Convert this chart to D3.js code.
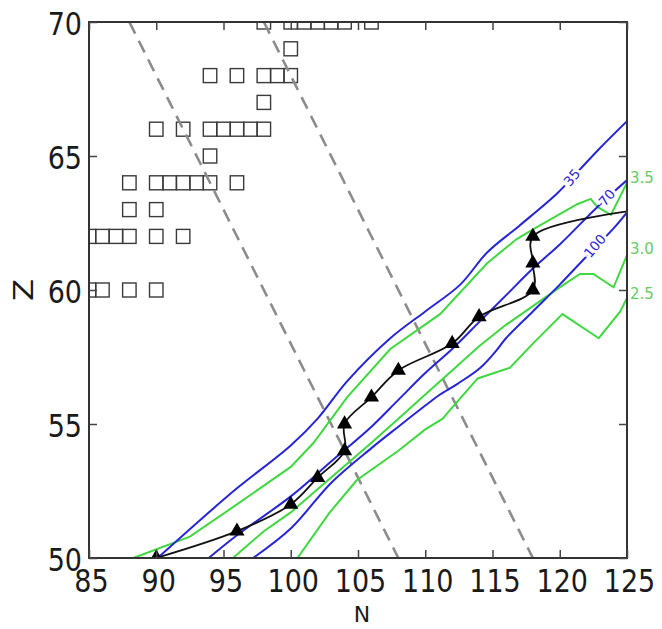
<!DOCTYPE html>
<html><head><meta charset="utf-8">
<script src="https://cdn.jsdelivr.net/npm/d3@7"></script>
<style>body{margin:0;background:#fff} svg{display:block}</style>
</head><body><svg id="c" width="662" height="629"></svg>
<script>
const xTicks=[85,90,95,100,105,110,115,120,125];
const yTicks=[50,55,60,65,70];

// open squares (N, Z)
const squareN=[85,86,88,90, 85,86,87,88,90,92, 88,90, 88,90,91,92,93,94,96, 94, 90,92,94,95,96,97,98, 98, 94,96,98,99,100, 100, 98,100,101,102,103,104,106];
const squareZ=[60,60,60,60, 62,62,62,62,62,62, 63,63, 64,64,64,64,64,64,64, 65, 66,66,66,66,66,66,66, 67, 68,68,68,68,68, 69, 70,70,70,70,70,70,70];

// dashed guide lines
const dash1N=[88,108], dash1Z=[70,50];
const dash2N=[98,118], dash2Z=[70,50];

// blue contours
const blue35N=[90.1,93,96,100,102,104.2,107.4,110,112.6,114.6,117,119.8,121.5,123,125];
const blue35Z=[50,51.3,52.6,54.2,55.2,56.6,58.2,59.2,60.2,61.4,62.4,63.6,64.5,65.3,66.3];
const blue70N=[93.9,96,100,103,106,108,110,112,114,116,118,120,122.8,125];
const blue70Z=[50,50.85,52.3,53.6,54.9,55.9,56.9,57.8,58.8,59.8,60.8,61.7,63.1,64.1];
const blue100N=[97.2,100,103,106,108,110.3,111.1,112.4,114.1,115.3,116,118,120,121.7,124,125];
const blue100Z=[50,51.1,52.8,54.1,54.9,55.8,56.1,56.5,57.1,57.75,58.2,59.2,60.2,61.1,62.3,62.9];

// green contours
const green35N=[88.3,92.5,96,100,101.7,104.2,107.4,111.1,114.6,116.8,118.3,121.3,122.3,122.8,123.8,125];
const green35Z=[50,50.8,52.0,53.4,54.3,56.0,57.8,59.1,61.0,61.9,62.35,63.2,63.4,63.1,62.8,64.0];
const green30N=[95.7,98,100,103,106,108,110,112,114,116,118,120,121.5,122.5,124,125];
const green30Z=[50,51,51.7,53.0,54.3,55.2,56.1,57.0,57.9,58.7,59.4,60.1,60.6,60.6,60.1,61.3];
const green25N=[100.5,102.9,104.9,108,110,111.3,111.8,113.9,116.3,118,120.2,122.9,124.5,125];
const green25Z=[50,51.7,52.9,54.0,54.8,55.2,55.5,56.7,57.1,58.0,59.1,58.2,59.2,59.7];

// path with triangles
const pathN=[90,96,100,102,104,104,106,108,112,114,118,118,118,126];
const pathZ=[50,51,52,53,54,55,56,57,58,59,60,61,62,63];

// contour labels
const blueLabels=["35","70","100"];
const blueLabelN=[120.9,123.5,122.6];
const blueLabelZ=[64.2,63.45,61.65];
const greenLabels=["3.5","3.0","2.5"];
const greenLabelZ=[64.2,61.55,59.85];

const x=d3.scaleLinear().domain([85,125]).range([89,627]);
const y=d3.scaleLinear().domain([50,70]).range([558,22]);
const svg=d3.select("#c");
const FONT="DejaVu Sans, Bitstream Vera Sans, sans-serif";
const BLUE="#2626d6", GREEN="#40d840";

svg.append("defs").append("clipPath").attr("id","clip")
  .append("rect").attr("x",x(85)).attr("y",y(70)).attr("width",x(125)-x(85)).attr("height",y(50)-y(70));
const plot=svg.append("g").attr("clip-path","url(#clip)");

const zip=(a,b)=>a.map((v,i)=>[v,b[i]]);
const lineLin=d3.line().x(d=>x(d[0])).y(d=>y(d[1]));
const lineSmooth=d3.line().x(d=>x(d[0])).y(d=>y(d[1])).curve(d3.curveCatmullRom.alpha(0.5));

// squares
const sw=x(86)-x(85), sh=14;
plot.selectAll("rect.sq").data(zip(squareN,squareZ)).join("rect")
  .attr("x",d=>x(d[0])-sw/2).attr("y",d=>y(d[1])-sh/2)
  .attr("width",sw).attr("height",sh)
  .attr("fill","none").attr("stroke","#3a3a3a").attr("stroke-width",1.4);

// dashed lines
[[dash1N,dash1Z],[dash2N,dash2Z]].forEach(([n,z])=>{
  plot.append("path").attr("d",lineLin(zip(n,z)))
    .attr("fill","none").attr("stroke","#8c8c8c").attr("stroke-width",2.6)
    .attr("stroke-dasharray","13,8");
});

// green contours
[[green35N,green35Z],[green30N,green30Z],[green25N,green25Z]].forEach(([n,z])=>{
  plot.append("path").attr("d",lineLin(zip(n,z)))
    .attr("fill","none").attr("stroke",GREEN).attr("stroke-width",2);
});
// blue contours
[[blue35N,blue35Z],[blue70N,blue70Z],[blue100N,blue100Z]].forEach(([n,z])=>{
  plot.append("path").attr("d",lineSmooth(zip(n,z)))
    .attr("fill","none").attr("stroke",BLUE).attr("stroke-width",2);
});

// blue contour labels (inline)
blueLabels.forEach((t,i)=>{
  const px=x(blueLabelN[i]), py=y(blueLabelZ[i]);
  svg.append("text").text(t)
    .attr("transform",`translate(${px},${py}) rotate(-50)`)
    .attr("text-anchor","middle").attr("dy","0.36em")
    .attr("font-family",FONT).attr("font-size",13.5)
    .attr("fill",BLUE).attr("stroke","#fff").attr("stroke-width",6)
    .attr("paint-order","stroke");
});

// path
plot.append("path").attr("d",lineSmooth(zip(pathN,pathZ)))
  .attr("fill","none").attr("stroke","#111").attr("stroke-width",1.8);
const tri=d3.symbol().type(d3.symbolTriangle).size(100);
plot.selectAll("path.tri").data(zip(pathN,pathZ)).join("path")
  .attr("d",tri).attr("transform",d=>`translate(${x(d[0])},${y(d[1])})`)
  .attr("fill","#000");

// frame
svg.append("rect").attr("x",x(85)).attr("y",y(70)).attr("width",x(125)-x(85)).attr("height",y(50)-y(70))
  .attr("fill","none").attr("stroke","#333").attr("stroke-width",2);

// axes
function styleAxis(g){
  g.select(".domain").remove();
  g.selectAll(".tick line").attr("stroke","#444").attr("stroke-width",1.5);
  g.selectAll("text").attr("font-family",FONT).attr("font-size",27).attr("fill","#1a1a1a");
}
const gx=svg.append("g").attr("transform",`translate(0,${y(50)})`)
  .call(d3.axisBottom(x).tickValues(xTicks).tickSize(-8).tickFormat(d3.format("d")));
styleAxis(gx);
gx.selectAll("text").attr("dy",0).attr("x",2).attr("y",28.5).attr("transform","scale(1,1.2)");
const gt=svg.append("g").attr("transform",`translate(0,${y(70)})`)
  .call(d3.axisTop(x).tickValues(xTicks).tickSize(-8).tickFormat(""));
styleAxis(gt);
const gy=svg.append("g").attr("transform",`translate(${x(85)},0)`)
  .call(d3.axisLeft(y).tickValues(yTicks).tickSize(-8).tickFormat(d3.format("d")));
styleAxis(gy);
gy.selectAll("text").attr("x",-7).attr("y",0).attr("dy","0.38em").attr("transform","scale(1,1.2)");
const gr=svg.append("g").attr("transform",`translate(${x(125)},0)`)
  .call(d3.axisRight(y).tickValues(yTicks).tickSize(-8).tickFormat(""));
styleAxis(gr);

// green labels outside right
greenLabels.forEach((t,i)=>{
  svg.append("text").text(t).attr("x",x(125)+3).attr("y",y(greenLabelZ[i])).attr("dy","0.36em")
    .attr("font-family",FONT).attr("font-size",15).attr("fill","#66cc66");
});

// axis titles
svg.append("text").text("N").attr("x",(x(85)+x(125))/2+4).attr("y",622)
  .attr("text-anchor","middle").attr("font-family",FONT).attr("font-size",22).attr("fill","#1a1a1a");
svg.append("text").text("Z").attr("transform",`translate(33,${(y(50)+y(70))/2}) rotate(-90) scale(1.2,1)`)
  .attr("text-anchor","middle").attr("font-family",FONT).attr("font-size",27).attr("fill","#1a1a1a");
</script></body></html>
